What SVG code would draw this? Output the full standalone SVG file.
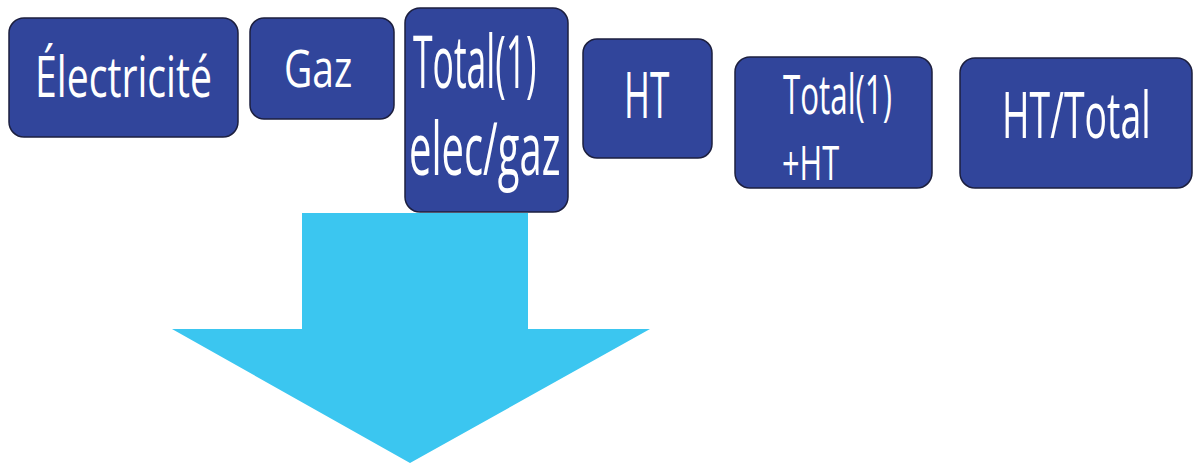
<svg xmlns="http://www.w3.org/2000/svg" width="1194" height="464" viewBox="0 0 1194 464">
<style>
.box{fill:#31459b;stroke:#1c1f3f;stroke-width:1.5}
.lbl{font-family:"Open Sans","DejaVu Sans",sans-serif;fill:#ffffff}
</style>
<rect width="1194" height="464" fill="#ffffff"/>
<g id="arrow">
<polygon points="302,213 528,213 528,329 650,329 410,463 172,329 302,329" fill="#3bc6f0"/>
</g>
<g id="n-electricite">
<rect class="box" x="9" y="18" width="229" height="119" rx="15"/>
<text class="lbl" transform="translate(35,97) scale(0.7,1)" font-size="56">Électricité</text>
</g>
<g id="n-gaz">
<rect class="box" x="250" y="18" width="144" height="101" rx="14"/>
<text class="lbl" transform="translate(284,87) scale(0.75,1)" font-size="52">Gaz</text>
</g>
<g id="n-total-elec-gaz">
<rect class="box" x="405" y="8" width="163" height="204" rx="15"/>
<text class="lbl" transform="translate(413,88) scale(0.48,1)" font-size="74">Total(1)</text>
<text class="lbl" transform="translate(409,175) scale(0.54,1)" font-size="74">elec/gaz</text>
</g>
<g id="n-ht">
<rect class="box" x="583" y="39" width="129" height="119" rx="14"/>
<text class="lbl" transform="translate(624,118) scale(0.55,1)" font-size="64">HT</text>
</g>
<g id="n-total-ht">
<rect class="box" x="735" y="57" width="197" height="131" rx="15"/>
<text class="lbl" transform="translate(783,114) scale(0.58,1)" font-size="54">Total(1)</text>
<text class="lbl" transform="translate(782,180) scale(0.64,1)" font-size="48">+HT</text>
</g>
<g id="n-ht-total">
<rect class="box" x="960" y="58" width="232" height="130" rx="15"/>
<text class="lbl" transform="translate(1002,138) scale(0.585,1)" font-size="64">HT/Total</text>
</g>
</svg>
